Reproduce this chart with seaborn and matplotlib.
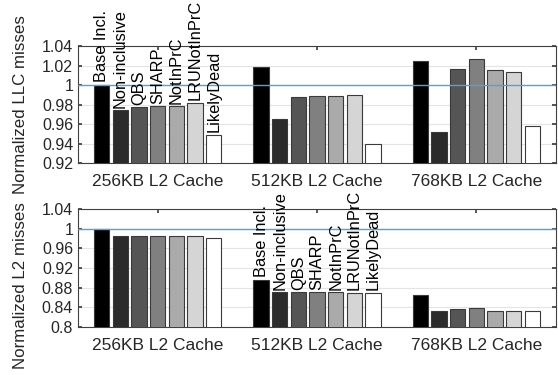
import matplotlib
matplotlib.use("Agg")
import matplotlib.pyplot as plt
import pandas as pd
import seaborn as sns

# data
caches = ['256KB L2 Cache', '512KB L2 Cache', '768KB L2 Cache']
policies = ['Base Incl.', 'Non-inclusive', 'QBS', 'SHARP', 'NotInPrC', 'LRUNotInPrC', 'LikelyDead']
llc_misses = {
    'Base Incl.':    [1.000, 1.018, 1.025],
    'Non-inclusive': [0.974, 0.965, 0.952],
    'QBS':           [0.977, 0.988, 1.016],
    'SHARP':         [0.978, 0.989, 1.027],
    'NotInPrC':      [0.978, 0.989, 1.015],
    'LRUNotInPrC':   [0.982, 0.990, 1.013],
    'LikelyDead':    [0.949, 0.940, 0.958],
}
l2_misses = {
    'Base Incl.':    [1.000, 0.895, 0.865],
    'Non-inclusive': [0.986, 0.870, 0.832],
    'QBS':           [0.986, 0.870, 0.836],
    'SHARP':         [0.986, 0.870, 0.839],
    'NotInPrC':      [0.986, 0.870, 0.832],
    'LRUNotInPrC':   [0.986, 0.869, 0.832],
    'LikelyDead':    [0.982, 0.869, 0.832],
}
llc_yticks = [0.92, 0.94, 0.96, 0.98, 1.0, 1.02, 1.04]
llc_ytick_labels = ['0.92', '0.94', '0.96', '0.98', '1', '1.02', '1.04']
l2_yticks = [0.8, 0.84, 0.88, 0.92, 0.96, 1.0, 1.04]
l2_ytick_labels = ['0.8', '0.84', '0.88', '0.92', '0.96', '1', '1.04']
bar_colors = ['#000000', '#2b2b2b', '#555555', '#808080', '#aaaaaa', '#d5d5d5', '#ffffff']

sns.set_theme(style='white')
plt.rcParams['font.family'] = ['Liberation Sans', 'DejaVu Sans']


def to_long(values):
    rows = []
    for p in policies:
        for c, v in zip(caches, values[p]):
            rows.append({'cache': c, 'policy': p, 'value': v})
    return pd.DataFrame(rows)


def draw_panel(ax, values, yticks, yticklabels, ylabel, label_group, label_y):
    df = to_long(values)
    sns.barplot(data=df, x='cache', y='value', hue='policy', order=caches,
                hue_order=policies, palette=bar_colors, width=0.82, gap=0.18,
                edgecolor='#3a3a3a', linewidth=0.8, legend=False, ax=ax,
                zorder=3)
    ax.set_ylim(yticks[0], yticks[-1])
    ax.set_xlim(-0.5, 2.5)
    ax.set_yticks(yticks)
    ax.set_yticklabels(yticklabels, fontsize=11.5)
    ax.tick_params(axis='x', labelsize=12.5, pad=8)
    ax.tick_params(direction='in', length=3, color='#404040',
                   top=True, right=True, left=True, bottom=True)
    ax.grid(axis='y', color='#e4e4e4', linewidth=0.8, zorder=0)
    ax.set_axisbelow(True)
    ax.axhline(1.0, color='#4da3dc', linewidth=1.0, zorder=4)
    for s in ax.spines.values():
        s.set_color('#404040')
        s.set_linewidth(0.8)
    ax.set_xlabel('')
    ax.set_ylabel(ylabel, fontsize=12.2)
    ax.yaxis.set_label_coords(-0.105, label_y)
    # policy names above the bars of one group
    for cont, name in zip(ax.containers, policies):
        bar = cont[label_group]
        ax.annotate(name, (bar.get_x() + bar.get_width() / 2, bar.get_height()),
                    xytext=(0, 2), textcoords='offset points', rotation=90,
                    ha='center', va='bottom', fontsize=11.8, color='black',
                    annotation_clip=False, zorder=5)


fig = plt.figure(figsize=(5.58, 3.75), dpi=100)
ax1 = fig.add_axes([0.1398, 0.5653, 0.8566, 0.312])
ax2 = fig.add_axes([0.1398, 0.1288, 0.8566, 0.313])

draw_panel(ax1, llc_misses, llc_yticks, llc_ytick_labels,
           'Normalized LLC misses', 0, 0.5)
draw_panel(ax2, l2_misses, l2_yticks, l2_ytick_labels,
           'Normalized L2 misses', 1, 0.347)

fig.savefig('out.png', dpi=100)
